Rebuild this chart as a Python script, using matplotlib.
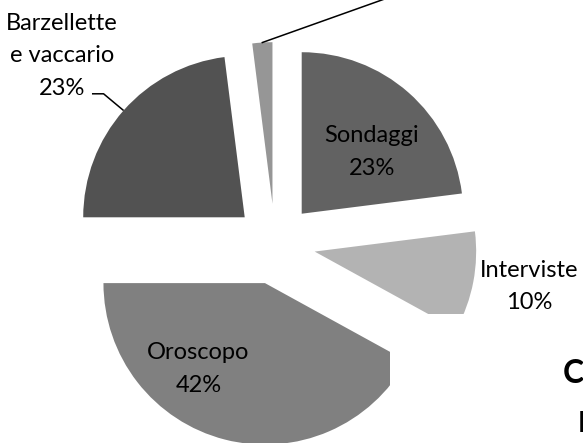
import numpy as np
import matplotlib
matplotlib.use("Agg")
import matplotlib.pyplot as plt
from matplotlib.patches import Rectangle

# ---- data ----
categories = ["Sondaggi", "Interviste", "Oroscopo", "Barzellette\ne vaccario", "Altro"]
values = [23, 10, 42, 23, 2]
colors = ["#626262", "#b3b3b3", "#808080", "#525252", "#969696"]

# ---- layout (pixels of the 583x443 canvas) ----
W, H = 583, 443
CX, CY, R = 275.0, 244.0, 161.5          # pie centre and radius in px
EXPLODE = 0.25
label_px = {"Sondaggi": (372, 152), "Interviste": (529, 286.5),
            "Oroscopo": (198.5, 369), "Barzellette\ne vaccario": (62, 56)}

def px2d(x, y):
    return (x - CX) / R, (CY - y) / R

plt.rcParams['font.family'] = ['Lato', 'DejaVu Sans']
fig = plt.figure(figsize=(W / 100, H / 100), dpi=100)
ax = fig.add_axes([0, 0, 1, 1])

wedges, _ = ax.pie(values, explode=[EXPLODE] * len(values), startangle=90,
                   counterclock=False, colors=colors, radius=1,
                   wedgeprops=dict(linewidth=0))
ax.set_aspect('auto')
x0, y1 = px2d(0, 0)
x1, y0 = px2d(W, H)
ax.set_xlim(x0, x1)
ax.set_ylim(y0, y1)
ax.axis('off')

total = sum(values)
for name, v, w in zip(categories, values, wedges):
    mid = np.deg2rad((w.theta1 + w.theta2) / 2)
    tip = np.array([np.cos(mid), np.sin(mid)]) * (1 + EXPLODE)
    if name in label_px:
        pct = f"{round(100 * v / total)}%"
        lx, ly = px2d(*label_px[name])
        ax.text(lx, ly, f"{name}\n{pct}", ha='center', va='center',
                fontsize=17, linespacing=1.68, color='black', zorder=5)
    if name.startswith("Barzellette"):
        elbow = tip + np.array([-20.0, 16.7]) / R
        end = elbow + np.array([-11.6, 0]) / R
        ax.plot([tip[0], elbow[0], end[0]], [tip[1], elbow[1], end[1]],
                color='black', lw=1.1, solid_capstyle='butt', zorder=4)
    if name == "Altro":
        end = tip + np.array([118.0, 42.0]) / R * 2.5
        ax.plot([tip[0], end[0]], [tip[1], end[1]], color='black', lw=1.1,
                zorder=4, clip_on=False)

# white box overlapping the chart at lower right (part of the page)
fig.patches.append(Rectangle((390 / W, 0), (W - 390) / W, (H - 314) / H,
                             transform=fig.transFigure, facecolor='white',
                             edgecolor='none', zorder=3))
fig.text(563 / W, 1 - 383 / H, "C", fontsize=23, fontweight='bold',
         ha='left', va='baseline', zorder=6)
fig.text(578 / W, 1 - 432 / H, "P", fontsize=20, fontweight='bold',
         ha='left', va='baseline', zorder=6)

fig.savefig("out.png", dpi=100)
